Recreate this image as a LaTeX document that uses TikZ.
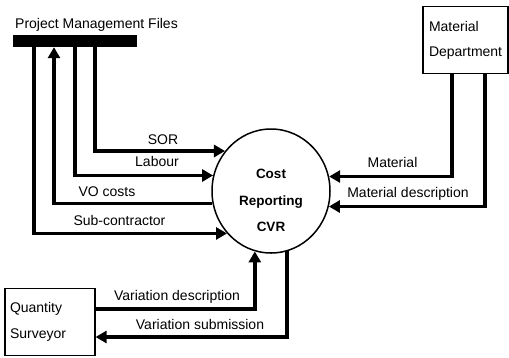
\documentclass[tikz,border=0pt]{standalone}
\usepackage{fontspec}
\setmainfont{Liberation Sans}
\usetikzlibrary{arrows.meta,shapes.geometric}
\begin{document}
\begin{tikzpicture}[x=1pt,y=-1pt,
  flowline/.style={line width=3.8pt, -{Triangle[length=11pt,width=12pt]}},
  lbl/.style={font=\fontsize{14}{16}\selectfont, anchor=base, inner sep=0pt},
  entity/.style={draw, line width=1.2pt, align=left, minimum height=67pt}]
\useasboundingbox (0,0) rectangle (509,357);

% data store bar and its title
\node[fill=black, inner sep=0pt, minimum width=124pt, minimum height=12pt] (pm) at (75,41) {};
\node[lbl] (pmtitle) at (96.5,28) {Project Management Files};

% central process
\node[draw, line width=1.5pt, ellipse, inner sep=0pt,
      minimum width=118pt, minimum height=124pt] (cvr) at (271,191) {};
\node[font=\bfseries\fontsize{13.5}{26.5}\selectfont, align=center, inner sep=0pt]
      (cvrtext) at (271,200.5) {Cost\\Reporting\\CVR};

% external entities
\node[entity, minimum width=85pt, inner xsep=6pt, text width=73pt,
      font=\fontsize{14}{25}\selectfont] (md) at (465.5,40) {Material\\Department};
\node[entity, minimum width=90pt, inner xsep=5pt, text width=80pt,
      font=\fontsize{14}{26}\selectfont] (qs) at (50,322) {Quantity\\Surveyor};

% column and row positions of the flows
\coordinate (xsub) at (34,0);
\coordinate (xvo)  at (54,0);
\coordinate (xlab) at (75,0);
\coordinate (xsor) at (95,0);
\coordinate (xmat) at (452,0);
\coordinate (xmdd) at (485,0);
\coordinate (yvd)  at (0,309);
\coordinate (yvs)  at (0,337);

% flows between the project files and the process
\draw[flowline] (pm.south -| xsor) |- (cvr.139);
\draw[flowline] (pm.south -| xlab) |- (cvr.165);
\draw[flowline] (cvr.192) -| (pm.south -| xvo);
\draw[flowline] (pm.south -| xsub) |- (cvr.224);

% flows from the material department
\draw[flowline] (md.south -| xmat) |- (cvr.14);
\draw[flowline] (md.south -| xmdd) |- (cvr.345);

% flows with the quantity surveyor
\draw[flowline] (qs.east |- yvd) -| (cvr.255);
\draw[flowline] (cvr.285) |- (qs.east |- yvs);

% flow labels
\node[lbl] (lsor) at (163,144) {SOR};
\node[lbl] (llab) at (157,166) {Labour};
\node[lbl] (lvo)  at (107,196) {VO costs};
\node[lbl] (lsub) at (119.5,225) {Sub-contractor};
\node[lbl] (lmat) at (392.5,167) {Material};
\node[lbl] (lmdd) at (408,197) {Material description};
\node[lbl] (lvd)  at (177,300) {Variation description};
\node[lbl] (lvs)  at (200,329) {Variation submission};
\end{tikzpicture}
\end{document}
